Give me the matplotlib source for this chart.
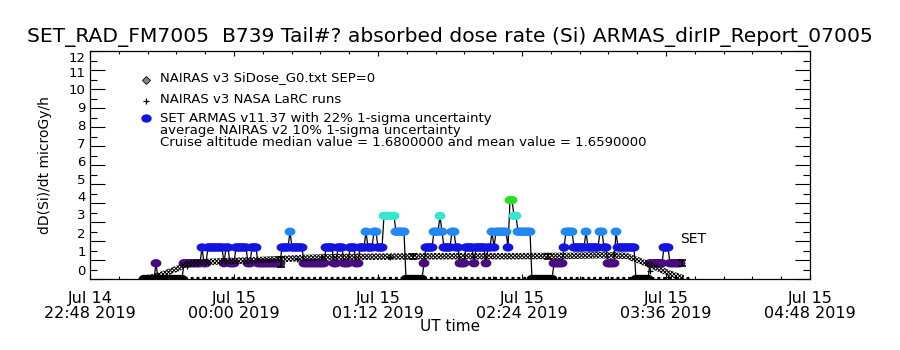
import numpy as np
import matplotlib
matplotlib.use("Agg")
import matplotlib.pyplot as plt
from matplotlib.path import Path
from matplotlib.ticker import FixedLocator, MultipleLocator
from matplotlib.transforms import ScaledTranslation

plt.rcParams['font.family'] = ['DejaVu Sans']
plt.rcParams['hatch.linewidth'] = 0.7

# ---------------- data ----------------
title = "SET_RAD_FM7005  B739 Tail#? absorbed dose rate (Si) ARMAS_dirIP_Report_07005"
ylabel = "dD(Si)/dt microGy/h"
xlabel = "UT time"

# x axis: minutes after Jul 14 2019 22:48 UT
xtick_min = [0, 72, 144, 216, 288, 360]
xtick_labels = ["Jul 14\n22:48 2019", "Jul 15\n00:00 2019", "Jul 15\n01:12 2019",
                "Jul 15\n02:24 2019", "Jul 15\n03:36 2019", "Jul 15\n04:48 2019"]
ytick_vals = [0, 1, 2, 3, 4, 5, 6, 7, 8, 9, 10, 11, 12]

# SET ARMAS v11.37 dose rate, 1-minute cadence starting at minute 27
set_start_min = 27
set_dose = [
    0.0, 0.0, 0.0,
    0.0, 0.0, 0.0, 0.83, 0.0, 0.0, 0.0, 0.0, 0.0, 0.0,
    0.0, 0.0, 0.0, 0.0, 0.0, 0.0, 0.0, 0.83, 0.83, 0.83,
    0.83, 0.83, 0.83, 0.83, 0.83, 0.83, 1.66, 0.83, 0.83, 1.66,
    1.66, 1.66, 1.66, 1.66, 1.66, 1.66, 1.66, 0.83, 1.66, 1.66,
    0.83, 0.83, 0.83, 1.66, 1.66, 1.66, 1.66, 1.66, 1.66, 0.83,
    0.83, 1.66, 1.66, 1.66, 0.83, 0.83, 0.83, 0.83, 0.83, 0.83,
    0.83, 0.83, 0.83, 0.83, 0.83, 0.83, 1.66, 1.66, 1.66, 1.66,
    2.49, 1.66, 1.66, 1.66, 1.66, 1.66, 1.66, 0.83, 0.83, 0.83,
    0.83, 0.83, 0.83, 0.83, 0.83, 0.83, 0.83, 0.83, 1.66, 1.66,
    1.66, 1.66, 0.83, 0.83, 1.66, 1.66, 1.66, 0.83, 0.83, 0.83,
    1.66, 1.66, 1.66, 0.83, 0.83, 1.66, 1.66, 1.66, 2.49, 1.66,
    1.66, 1.66, 2.49, 2.49, 1.66, 1.66, 1.66, 3.32, 3.32, 3.32,
    3.32, 3.32, 3.32, 2.49, 2.49, 2.49, 2.49, 2.49, 0.0, 0.0,
    0.0, 0.0, 0.0, 0.0, 0.0, 0.0, 0.0, 0.83, 1.66, 1.66,
    1.66, 1.66, 2.49, 2.49, 2.49, 3.32, 2.49, 1.66, 1.66, 1.66,
    1.66, 2.49, 2.49, 1.66, 1.66, 0.83, 0.83, 0.83, 1.66, 1.66,
    1.66, 1.66, 0.83, 1.66, 1.66, 1.66, 1.66, 1.66, 0.83, 1.66,
    1.66, 2.49, 1.66, 2.49, 2.49, 2.49, 2.49, 2.49, 2.49, 1.66,
    4.15, 4.15, 3.32, 3.32, 2.49, 2.49, 2.49, 2.49, 2.49, 2.49,
    2.49, 0.0, 0.0, 0.0, 0.0, 0.0, 0.0, 0.0, 0.0, 0.0,
    0.0, 0.0, 0.83, 0.83, 0.83, 0.83, 0.83, 1.66, 2.49, 2.49,
    2.49, 2.49, 1.66, 1.66, 1.66, 1.66, 1.66, 1.66, 2.49, 1.66,
    1.66, 1.66, 1.66, 1.66, 1.66, 2.49, 2.49, 1.66, 1.66, 0.83,
    0.83, 0.83, 0.83, 2.49, 1.66, 1.66, 1.66, 1.66, 1.66, 1.66,
    1.66, 1.66, 1.66, 0.0, 0.0, 0.0, 0.0, 0.0, 0.0, 0.0,
    0.83, 0.83, 0.83, 0.83, 0.83, 0.83, 0.83, 1.66, 1.66, 1.66,
    0.83, 0.83, 0.83, 0.83, 0.83, 0.83,
]
set_level_step = 0.83   # one count of the SET dosimeter

# NAIRAS v3 SiDose_G0.txt SEP=0 (model along the flight track)
nairas_min = [27, 30, 35, 40, 45, 48, 55, 70, 85, 95, 105, 120, 150, 180,
              210, 240, 255, 268, 275, 283, 290, 297]
nairas_dose = [0.03, 0.06, 0.2, 0.4, 0.6, 0.78, 0.88, 0.95, 1.0, 1.05, 1.1,
               1.15, 1.18, 1.2, 1.2, 1.22, 1.25, 1.22, 0.95, 0.6, 0.28, 0.03]

# NAIRAS SEP component (zero throughout)
sep_min = [27, 300]
sep_dose = [0.0, 0.0]

# NAIRAS v3 NASA LaRC runs
larc_min = [48.5, 103.5, 116, 150, 261.5, 280, 289]
larc_dose = [0.68, 1.05, 1.16, 1.16, 1.3, 0.42, 0.1]

# average NAIRAS v2 with 10% 1-sigma uncertainty
avg_min = [95.5, 161.5, 229, 296]
avg_dose = [0.9, 1.18, 1.18, 0.84]
avg_err = [0.26, 0.13, 0.13, 0.16]

legend_labels = ["NAIRAS v3 SiDose_G0.txt SEP=0",
                 "NAIRAS v3 NASA LaRC runs",
                 "SET ARMAS v11.37 with 22% 1-sigma uncertainty"]
note1 = "average NAIRAS v2 10% 1-sigma uncertainty"
note2 = "Cruise altitude median value = 1.6800000 and mean value = 1.6590000"

# ---------------- style ----------------
level_colors = ['#000000', '#4a0a80', '#1414e0', '#2088f0', '#38e6d0', '#28e028']
# vertical nudge (px, upward) of each y tick label, as the original plotting program placed them
ylabel_shift_px = [9, 9, 8, 8, 7, 5, 4, 3, 2, 1, 0, -2, -6]

fig = plt.figure(figsize=(9, 3.5), dpi=100)
ax = fig.add_axes([90/900, 71/350, 720/900, 228/350])

theta = np.linspace(0, 2*np.pi, 41)
blob = Path(np.column_stack([1.3*np.cos(theta), np.sin(theta)]), closed=True)

set_min = set_start_min + np.arange(len(set_dose))
set_arr = np.array(set_dose)
set_cols = [level_colors[int(round(v/set_level_step))] for v in set_arr]

# SET: connecting line, then blobs
ax.plot(set_min, set_arr, color='black', lw=0.9, zorder=2)
ax.scatter(set_min, set_arr, c=set_cols, marker=blob, s=7.8**2, linewidths=0, zorder=3)

# zero-level SEP series along bottom
ax.plot(sep_min, sep_dose, color='black', lw=3, ls=(0, (0.7, 0.7)), zorder=2)

# NAIRAS band (checkered)
nt = np.array(nairas_min); nv = np.array(nairas_dose)
ax.fill_between(nt, nv - 0.17, nv + 0.17, facecolor='none', edgecolor='black',
                hatch='xxxxxxxxx', linewidth=0, zorder=4)

# LaRC runs
ax.plot(larc_min, larc_dose, ls='none', marker='+', ms=4, mew=0.9, color='black', zorder=5)
ax.errorbar(avg_min, avg_dose, yerr=avg_err, fmt='none', ecolor='black',
            elinewidth=1.2, capsize=3, capthick=1.2, zorder=5)

ax.text(set_min[-1], 2.1, "SET", fontsize=10, ha='left', va='center')

# legend
ax.plot([0.078], [0.873], transform=ax.transAxes, marker='D', ms=4.5, mfc='#888888',
        mec='black', mew=0.6, ls='none')
ax.plot([0.078], [0.78], transform=ax.transAxes, marker='+', ms=4, mew=0.9,
        color='black', ls='none')
ax.plot([0.078], [0.706], transform=ax.transAxes, marker=blob, ms=6.5,
        color=level_colors[2], ls='none')
for yy, lab in zip([0.882, 0.789, 0.706], legend_labels):
    ax.text(0.097, yy, lab, transform=ax.transAxes, fontsize=9.5, va='center', ha='left')
ax.text(0.097, 0.652, note1, transform=ax.transAxes, fontsize=9.5, va='center', ha='left')
ax.text(0.097, 0.598, note2, transform=ax.transAxes, fontsize=9.5, va='center', ha='left')

# axes
ax.set_xlim(0, 360)
ax.set_ylim(0, 12)
ax.xaxis.set_major_locator(FixedLocator(xtick_min))
ax.set_xticklabels(xtick_labels, fontsize=11.5, linespacing=0.95)
ax.xaxis.set_minor_locator(MultipleLocator(14.4))
ax.yaxis.set_major_locator(FixedLocator(ytick_vals))
ax.set_yticklabels([str(v) for v in ytick_vals], fontsize=9.5)
ax.yaxis.set_minor_locator(MultipleLocator(0.5))
ax.tick_params(which='both', direction='in', top=True, right=True, width=0.8, color='black')
ax.tick_params(axis='x', which='major', length=3.6, pad=9)
ax.tick_params(axis='x', which='minor', length=2.2)
ax.tick_params(axis='y', which='major', length=10.5, pad=3)
ax.tick_params(axis='y', which='minor', length=5)
for lab, dy in zip(ax.get_yticklabels(), ylabel_shift_px):
    lab.set_transform(lab.get_transform() + ScaledTranslation(0, dy/100, fig.dpi_scale_trans))
for s in ax.spines.values():
    s.set_linewidth(0.9)

ax.set_ylabel(ylabel, fontsize=10, va='center')
ax.yaxis.set_label_coords(-0.0625, 0.5)
ax.set_xlabel(xlabel, fontsize=11, va='center')
ax.xaxis.set_label_coords(0.5, -0.2105)

fig.text(0.5, 1 - 37/350, title, fontsize=14.6, ha='center', va='center')

fig.savefig("out.png", dpi=100)
